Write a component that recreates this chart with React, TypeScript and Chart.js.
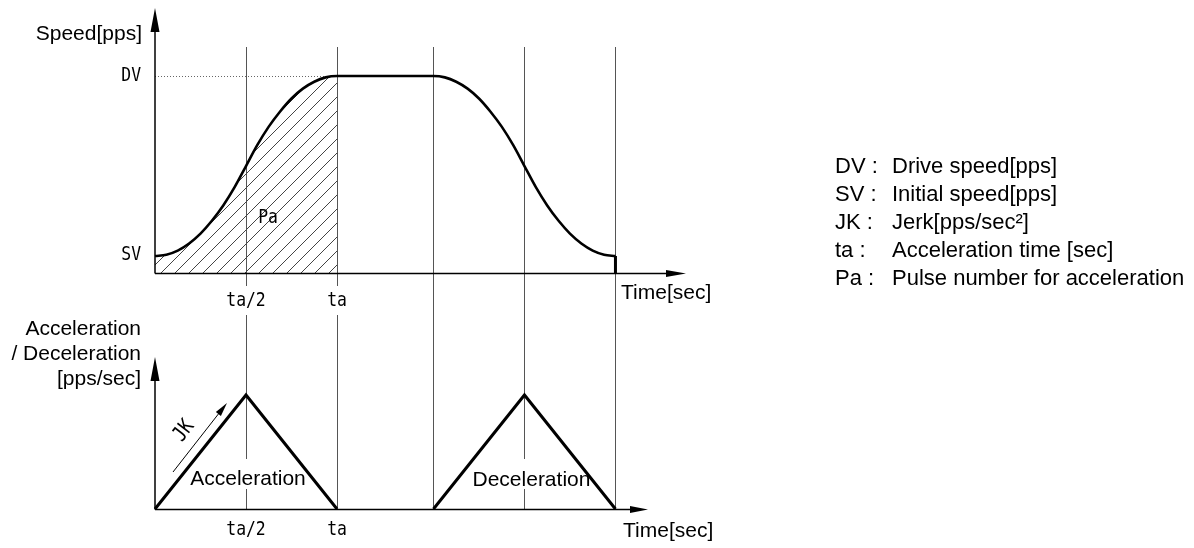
import { useEffect, useRef } from "react";
import { Chart, registerables } from "chart.js";

Chart.register(...registerables);

// ---------- data ----------
// time in units of ta/2 (ta = 2), speed normalised so that DV = 1
const accelTime = [0, 0.125, 0.25, 0.375, 0.5, 0.625, 0.75, 0.875, 1, 1.125, 1.25, 1.375, 1.5, 1.625, 1.75, 1.875, 2];
const accelSpeed = [0.086, 0.093, 0.114, 0.15, 0.2, 0.265, 0.343, 0.436, 0.543, 0.65, 0.743, 0.82, 0.886, 0.936, 0.971, 0.993, 1];
const decelTime = [3.06, 3.185, 3.31, 3.435, 3.56, 3.685, 3.81, 3.935, 4.06, 4.185, 4.31, 4.435, 4.56, 4.685, 4.81, 4.935, 5.06];
const decelSpeed = [1, 0.993, 0.971, 0.936, 0.886, 0.82, 0.743, 0.65, 0.543, 0.436, 0.343, 0.265, 0.2, 0.15, 0.114, 0.093, 0.086];
const accPhaseTime = [0, 1, 2];
const accPhaseValue = [0, 1, 0];
const decPhaseTime = [3.06, 4.06, 5.06];
const decPhaseValue = [0, 1, 0];
const markTimes = [1, 2, 3.06, 4.06, 5.06];
const tickLabels = ["ta/2", "ta"];
const levelLabels = ["DV", "SV"];
const legendKeys = ["DV :", "SV :", "JK :", "ta :", "Pa :"];
const legendTexts = [
  "Drive speed[pps]",
  "Initial speed[pps]",
  "Jerk[pps/sec²]",
  "Acceleration time [sec]",
  "Pulse number for acceleration",
];

// ---------- layout (pixels) ----------
const W = 1194;
const H = 548;
const L = {
  left: 155,
  right: 686,
  top: 8,
  bottom: 509,
  axis0: 273,
  dv: 76,
  accPeak: 395,
  pxPerT: 91,
  lineTop: 47,
  tickBottom: 286,
  lowerTop: 315,
  gapTop: 459,
  gapBottom: 489,
  lowerAxisEnd: 648,
};

const SANS = '"Liberation Sans", Arial, sans-serif';
const MONO = '"DejaVu Sans Mono", monospace';

function monoText(ctx: CanvasRenderingContext2D, text: string, x: number, y: number, align: CanvasTextAlign = "center", size = 20) {
  ctx.save();
  ctx.translate(x, y);
  ctx.scale(0.82, 1);
  ctx.font = `${size}px ${MONO}`;
  ctx.textAlign = align;
  ctx.textBaseline = "middle";
  ctx.fillStyle = "#000";
  ctx.fillText(text, 0, 0);
  ctx.restore();
}

function sansText(ctx: CanvasRenderingContext2D, text: string, x: number, y: number, align: CanvasTextAlign = "left", size = 21) {
  ctx.save();
  ctx.font = `${size}px ${SANS}`;
  ctx.textAlign = align;
  ctx.textBaseline = "middle";
  ctx.fillStyle = "#000";
  ctx.fillText(text, x, y);
  ctx.restore();
}

function line(ctx: CanvasRenderingContext2D, x1: number, y1: number, x2: number, y2: number) {
  ctx.beginPath();
  ctx.moveTo(x1, y1);
  ctx.lineTo(x2, y2);
  ctx.stroke();
}

function arrowHead(ctx: CanvasRenderingContext2D, tipX: number, tipY: number, dx: number, dy: number, len: number, half: number) {
  const n = Math.hypot(dx, dy);
  const ux = dx / n, uy = dy / n;
  const bx = tipX - ux * len, by = tipY - uy * len;
  ctx.beginPath();
  ctx.moveTo(tipX, tipY);
  ctx.lineTo(bx - uy * half, by + ux * half);
  ctx.lineTo(bx + uy * half, by - ux * half);
  ctx.closePath();
  ctx.fill();
}

function makeHatch(): CanvasPattern | string {
  const s = 14;
  const c = document.createElement("canvas");
  c.width = s;
  c.height = s;
  const g = c.getContext("2d");
  if (!g) return "rgba(0,0,0,0.2)";
  g.strokeStyle = "#444";
  g.lineWidth = 1;
  g.beginPath();
  g.moveTo(-1, s + 1);
  g.lineTo(s + 1, -1);
  g.moveTo(-1, 1);
  g.lineTo(1, -1);
  g.moveTo(s - 1, s + 1);
  g.lineTo(s + 1, s - 1);
  g.stroke();
  return g.createPattern(c, "repeat") || "rgba(0,0,0,0.2)";
}

const diagramPlugin = {
  id: "diagram",
  beforeDatasetsDraw(chart: any) {
    const ctx: CanvasRenderingContext2D = chart.ctx;
    const xs = chart.scales.x;
    ctx.save();
    ctx.strokeStyle = "#555";
    ctx.lineWidth = 1;
    const segs: number[][][] = [
      [[L.lineTop, L.tickBottom], [L.lowerTop, L.gapTop], [L.gapBottom, L.bottom]],
      [[L.lineTop, L.tickBottom], [L.lowerTop, L.bottom]],
      [[L.lineTop, L.bottom]],
      [[L.lineTop, L.gapTop], [L.gapBottom, L.bottom]],
      [[L.lineTop, L.bottom]],
    ];
    markTimes.forEach((t, i) => {
      const px = Math.round(xs.getPixelForValue(t)) + 0.5;
      segs[i].forEach(([a, b]) => line(ctx, px, a, px, b));
    });
    // DV dotted guide
    const ys = chart.scales.y;
    const dvY = Math.round(ys.getPixelForValue(accelSpeed[accelSpeed.length - 1])) + 0.5;
    ctx.setLineDash([1, 2]);
    ctx.strokeStyle = "#666";
    line(ctx, xs.getPixelForValue(0), dvY, xs.getPixelForValue(accelTime[accelTime.length - 1]), dvY);
    ctx.restore();
  },
  afterDatasetsDraw(chart: any) {
    const ctx: CanvasRenderingContext2D = chart.ctx;
    const xs = chart.scales.x, ys = chart.scales.y, ya = chart.scales.y2;
    const x0 = xs.getPixelForValue(0);
    const topAxisY = Math.round(ys.getPixelForValue(0)) + 0.5;
    const lowAxisY = Math.round(ya.getPixelForValue(0)) + 0.5;
    ctx.save();
    ctx.strokeStyle = "#000";
    ctx.fillStyle = "#000";
    ctx.lineWidth = 1.5;
    // upper axes
    line(ctx, x0, topAxisY, chart.chartArea.right - 16, topAxisY);
    line(ctx, x0, topAxisY, x0, chart.chartArea.top + 20);
    arrowHead(ctx, chart.chartArea.right, topAxisY, 1, 0, 20, 3.5);
    arrowHead(ctx, x0, chart.chartArea.top, 0, -1, 24, 4.5);
    // lower axes
    line(ctx, x0, lowAxisY, L.lowerAxisEnd - 16, lowAxisY);
    line(ctx, x0, lowAxisY, x0, 377);
    arrowHead(ctx, L.lowerAxisEnd, lowAxisY, 1, 0, 18, 3.5);
    arrowHead(ctx, x0, 357, 0, -1, 24, 4.5);
    // JK arrow
    ctx.lineWidth = 1;
    const jx1 = 173, jy1 = 472, jx2 = 227, jy2 = 403;
    line(ctx, jx1, jy1, jx2 - (jx2 - jx1) * 0.12, jy2 - (jy2 - jy1) * 0.12);
    arrowHead(ctx, jx2, jy2, jx2 - jx1, jy2 - jy1, 14, 3.2);
    ctx.restore();

    // JK label (rotated)
    ctx.save();
    ctx.translate(184, 431);
    ctx.rotate(Math.atan2(jy2 - jy1, jx2 - jx1));
    monoText(ctx, "JK", 0, 0, "center", 21);
    ctx.restore();

    // axis titles
    sansText(ctx, "Speed[pps]", 142, 34, "right");
    sansText(ctx, "Acceleration", 141, 329, "right");
    sansText(ctx, "/ Deceleration", 141, 354, "right");
    sansText(ctx, "[pps/sec]", 141, 379, "right");
    sansText(ctx, "Time[sec]", 621, 293, "left");
    sansText(ctx, "Time[sec]", 623, 531, "left");

    // level labels
    monoText(ctx, levelLabels[0], 141, ys.getPixelForValue(accelSpeed[accelSpeed.length - 1]), "right");
    monoText(ctx, levelLabels[1], 141, ys.getPixelForValue(accelSpeed[0]) - 1, "right");

    // tick labels
    tickLabels.forEach((lab, i) => {
      const px = xs.getPixelForValue(markTimes[i]);
      monoText(ctx, lab, px, 301);
      monoText(ctx, lab, px, 530);
    });

    // area label
    monoText(ctx, "Pa", 268, 218);

    // phase labels
    sansText(ctx, "Acceleration", xs.getPixelForValue(accPhaseTime[1]) + 2, 479, "center");
    sansText(ctx, "Deceleration", xs.getPixelForValue(decPhaseTime[1]) + 7, 480, "center");

    // legend
    legendKeys.forEach((k, i) => {
      const y = 167 + i * 28;
      sansText(ctx, k, 835, y, "left", 22);
      sansText(ctx, legendTexts[i], 892, y, "left", 22);
    });
  },
};

export default function App() {
  const ref = useRef<HTMLCanvasElement | null>(null);

  useEffect(() => {
    const canvas = ref.current;
    if (!canvas) return;
    const speedUnit = L.axis0 - L.dv;
    const accUnit = L.bottom - L.accPeak;
    const hatch = makeHatch();
    const pts = (ts: number[], vs: number[]) => ts.map((t, i) => ({ x: t, y: vs[i] }));
    const chart = new Chart(canvas, {
      type: "line",
      data: {
        datasets: [
          {
            data: [...pts(accelTime, accelSpeed), ...pts(decelTime, decelSpeed)],
            yAxisID: "y",
            borderColor: "#000",
            borderWidth: 2.6,
            pointRadius: 0,
            cubicInterpolationMode: "monotone",
            fill: false,
            clip: false,
          },
          {
            data: [
              { x: decelTime[decelTime.length - 1], y: decelSpeed[decelSpeed.length - 1] },
              { x: decelTime[decelTime.length - 1], y: 0 },
            ],
            yAxisID: "y",
            borderColor: "#000",
            borderWidth: 3,
            pointRadius: 0,
            fill: false,
            clip: false,
          },
          {
            data: pts(accelTime, accelSpeed),
            yAxisID: "y",
            borderWidth: 0,
            borderColor: "rgba(0,0,0,0)",
            backgroundColor: hatch as any,
            pointRadius: 0,
            cubicInterpolationMode: "monotone",
            fill: "origin",
          },
          {
            data: pts(accPhaseTime, accPhaseValue),
            yAxisID: "y2",
            borderColor: "#000",
            borderWidth: 3,
            pointRadius: 0,
            tension: 0,
            fill: false,
            clip: false,
          },
          {
            data: pts(decPhaseTime, decPhaseValue),
            yAxisID: "y2",
            borderColor: "#000",
            borderWidth: 3,
            pointRadius: 0,
            tension: 0,
            fill: false,
            clip: false,
          },
        ],
      },
      options: {
        responsive: false,
        animation: false,
        events: [],
        layout: {
          padding: { left: L.left, right: W - L.right, top: L.top, bottom: H - L.bottom },
        },
        plugins: { legend: { display: false }, tooltip: { enabled: false } },
        scales: {
          x: { type: "linear", display: false, min: 0, max: (L.right - L.left) / L.pxPerT },
          y: {
            type: "linear",
            display: false,
            min: -(L.bottom - L.axis0) / speedUnit,
            max: (L.axis0 - L.top) / speedUnit,
          },
          y2: { type: "linear", display: false, min: 0, max: (L.bottom - L.top) / accUnit },
        },
      },
      plugins: [diagramPlugin],
    } as any);
    return () => chart.destroy();
  }, []);

  return (
    <div style={{ position: "absolute", left: 0, top: 0, width: W, height: H, background: "#fff" }}>
      <canvas ref={ref} width={W} height={H} style={{ display: "block" }} />
    </div>
  );
}
